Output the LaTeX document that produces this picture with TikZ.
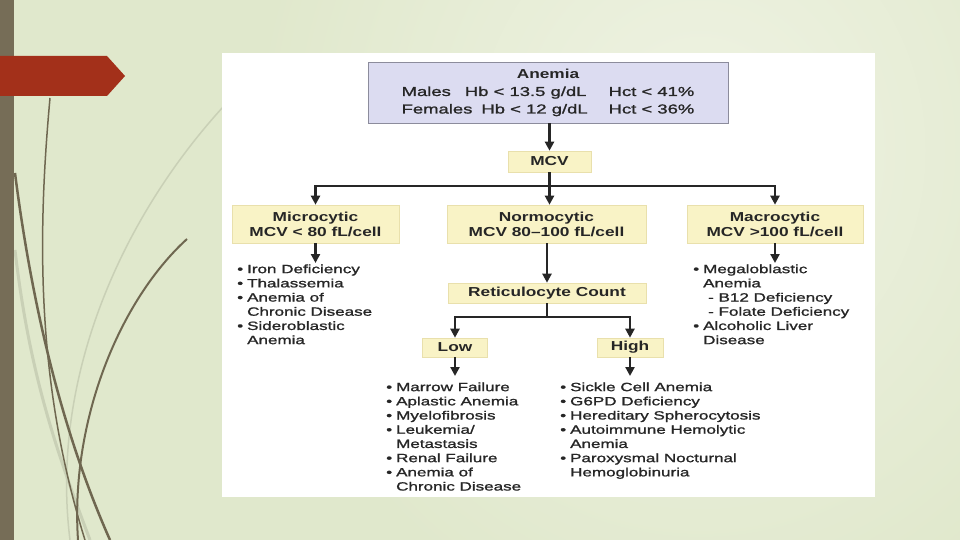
\documentclass[tikz,border=0pt]{standalone}
\usepackage{fontspec}
\setmainfont{Liberation Sans}
\newfontfamily\tfont{Liberation Sans}[FakeStretch=1.33]
\newfontfamily\lfont{Liberation Sans}[FakeStretch=1.42,FakeBold=1.3]
\usetikzlibrary{arrows.meta}
\definecolor{bgbase}{HTML}{E0E8CC}
\definecolor{bglight}{HTML}{EFF3E3}
\definecolor{barcol}{HTML}{766D57}
\definecolor{redarrow}{HTML}{A3301A}
\definecolor{curve}{HTML}{6F6750}
\definecolor{curvelight}{HTML}{C9D0B6}
\definecolor{ink}{HTML}{262626}
\definecolor{yfill}{HTML}{F9F3C6}
\definecolor{yline}{HTML}{E9E0AC}
\definecolor{lfill}{HTML}{DCDCF1}
\definecolor{lline}{HTML}{8C8C9C}
\begin{document}
\begin{tikzpicture}[x=1pt,y=-1pt,
  ybox/.style={draw=yline, fill=yfill, line width=0.6pt, inner sep=0pt,
    font=\tfont\bfseries\fontsize{13}{15}\selectfont, text=ink, align=center},
  arr/.style={draw=ink, line width=2.4pt, -{Triangle[width=9pt,length=9pt]}},
  lnk/.style={draw=ink, line width=2.4pt},
  lst/.style={inner sep=0pt, anchor=north west, text=ink,
    font=\lfont\fontsize{12}{14.2}\selectfont},
]
\useasboundingbox (0,0) rectangle (960,540);
% background
\fill[bgbase] (0,0) rectangle (960,540);
\shade[inner color=bglight, outer color=bgbase] (250,-350) rectangle (1150,650);
% decorative curves
\draw[curvelight, line width=3pt] (15,250) .. controls (30,380) and (60,460) .. (90,540);
\draw[curvelight, line width=1.5pt] (223,107) .. controls (120,220) and (50,380) .. (70,540);
\draw[curve, line width=1.5pt] (50,98) .. controls (38,230) and (35,380) .. (85,540);
\draw[curve, line width=2.5pt] (15,173) .. controls (35,330) and (70,450) .. (110,540);
\draw[curve, line width=2pt] (187,239) .. controls (120,300) and (70,420) .. (78,540);
% left bar and red arrow
\fill[barcol] (0,0) rectangle (14,540);
\fill[redarrow] (0,56) -- (107,56) -- (125,76) -- (107,96) -- (0,96) -- cycle;
% white panel
\fill[white] (222,53) rectangle (875,497);

% nodes
\node[draw=lline, fill=lfill, line width=0.8pt, inner sep=0pt, minimum width=360pt,
  minimum height=61pt, text=ink, font=\lfont\fontsize{13}{17.5}\selectfont] (anemia) at (548,92.5)
  {\begin{tabular}{@{}l@{\hspace{21pt}}l@{}}
   \multicolumn{2}{c}{\tfont\bfseries Anemia}\\
   Males\hspace{14pt}Hb < 13.5 g/dL & Hct < 41\%\\
   Females\hspace{9pt}Hb < 12 g/dL & Hct < 36\%
   \end{tabular}};
\node[ybox, minimum width=83pt, minimum height=21pt] (mcv) at (549.5,161.5) {MCV};
\node[ybox, minimum width=167pt, minimum height=38pt] (micro) at (315.5,224) {Microcytic\\MCV < 80 fL/cell};
\node[ybox, minimum width=199pt, minimum height=38pt] (normo) at (546.5,224) {Normocytic\\MCV 80–100 fL/cell};
\node[ybox, minimum width=176pt, minimum height=38pt] (macro) at (775,224) {Macrocytic\\MCV >100 fL/cell};
\node[ybox, minimum width=198pt, minimum height=20pt] (retic) at (547,293) {Reticulocyte Count};
\node[ybox, minimum width=65pt, minimum height=19pt] (low) at (455,347.5) {Low};
\node[ybox, minimum width=66pt, minimum height=19pt] (high) at (630,347.5) {High};

% lists
\node[lst] (microlist) at (237,263) {\begin{tabular}{@{}l@{\hspace{4pt}}l@{}}
  •&Iron Deficiency\\ •&Thalassemia\\ •&Anemia of\\ &Chronic Disease\\ •&Sideroblastic\\ &Anemia\end{tabular}};
\node[lst] (macrolist) at (693,263) {\begin{tabular}{@{}l@{\hspace{4pt}}l@{}}
  •&Megaloblastic\\ &Anemia\\ &\hspace{5pt}- B12 Deficiency\\ &\hspace{5pt}- Folate Deficiency\\ •&Alcoholic Liver\\ &Disease\end{tabular}};
\node[lst] (lowlist) at (386,381) {\begin{tabular}{@{}l@{\hspace{4pt}}l@{}}
  •&Marrow Failure\\ •&Aplastic Anemia\\ •&Myelofibrosis\\ •&Leukemia/\\ &Metastasis\\ •&Renal Failure\\ •&Anemia of\\ &Chronic Disease\end{tabular}};
\node[lst] (highlist) at (560,381) {\begin{tabular}{@{}l@{\hspace{4pt}}l@{}}
  •&Sickle Cell Anemia\\ •&G6PD Deficiency\\ •&Hereditary Spherocytosis\\ •&Autoimmune Hemolytic\\ &Anemia\\ •&Paroxysmal Nocturnal\\ &Hemoglobinuria\end{tabular}};

% connectors
\coordinate (split1) at (549.5,186);
\coordinate (split2) at (547,317);
\draw[arr] (anemia.south -| mcv.north) -- (mcv.north);
\draw[lnk] (mcv.south) -- (split1);
\draw[arr] (split1) -| (micro.north);
\draw[arr] (split1) -| (macro.north);
\draw[arr] (split1) -- (split1 |- normo.north);
\draw[arr] (micro.south) -- (micro.south |- microlist.north);
\draw[arr] (macro.south) -- (macro.south |- macrolist.north);
\draw[arr] (normo.south -| retic.north) -- (retic.north);
\draw[lnk] (retic.south) -- (split2);
\draw[arr] (split2) -| (low.north);
\draw[arr] (split2) -| (high.north);
\draw[arr, shorten >=5pt] (low.south) -- (low.south |- lowlist.north);
\draw[arr, shorten >=5pt] (high.south) -- (high.south |- highlist.north);
\end{tikzpicture}
\end{document}
